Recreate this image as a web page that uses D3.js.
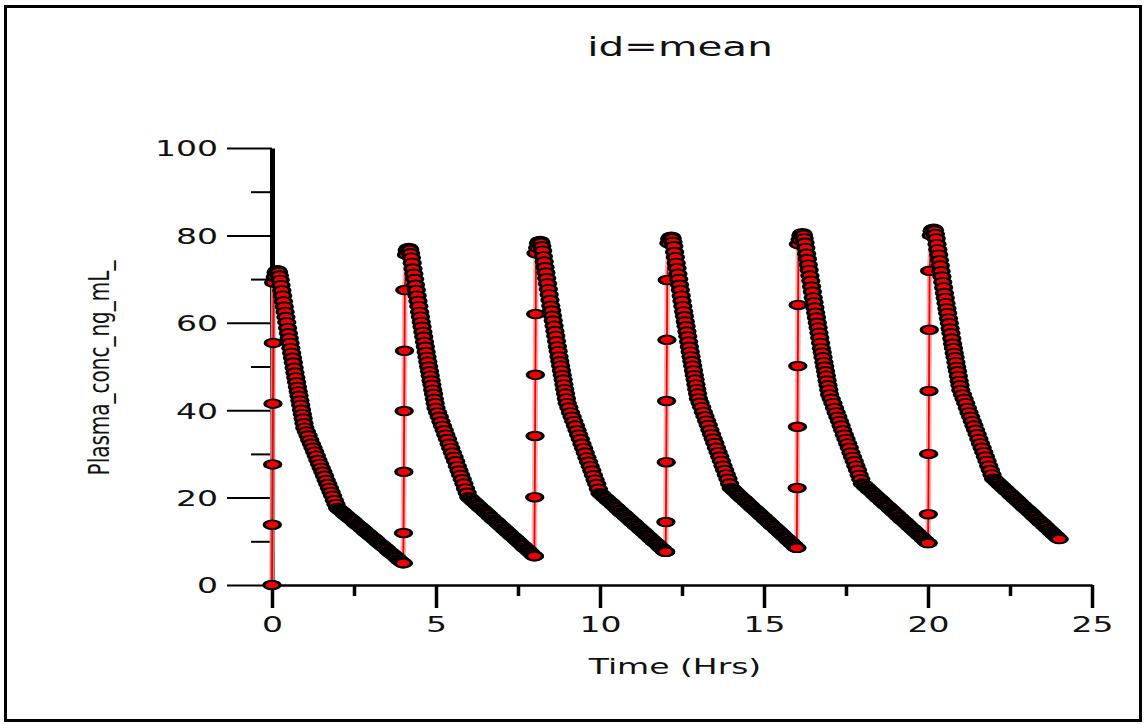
<!DOCTYPE html>
<html>
<head>
<meta charset="utf-8">
<script src="https://cdn.jsdelivr.net/npm/d3@7"></script>
<style>
  html, body { margin: 0; padding: 0; background: #ffffff; }
  svg { display: block; }
  text { font-family: "DejaVu Sans", Verdana, sans-serif; fill: #111; }
</style>
</head>
<body>
<svg id="chart" width="1147" height="724"></svg>
<script>
// Dose times (hours) for the six dosing intervals
const doseTimes = [0, 4, 8, 12, 16, 20];

// Sampling times within the short infusion (hours after each dose)
const riseHours = [0, 0.01, 0.02, 0.03, 0.04, 0.05];

// Concentrations during the infusion, one row per dose
const riseConc = [
  [0, 13.8, 27.6, 41.5, 55.4, 69.2],
  [5.0, 11.9, 25.9, 39.8, 53.6, 67.5],
  [6.6, 20.1, 34.1, 48.1, 62.0, 75.9],
  [7.6, 14.4, 28.1, 42.1, 56.1, 69.8],
  [8.5, 22.2, 36.2, 50.1, 64.1, 78.0],
  [9.6, 16.2, 30.0, 44.4, 58.4, 71.9]
];

// Sampling times after the infusion (hours after each dose)
const hoursAfterDose = [
  0.100, 0.125, 0.150, 0.175, 0.200, 0.225, 0.250, 0.275, 0.300, 0.325,
  0.350, 0.375, 0.400, 0.425, 0.450, 0.475, 0.500, 0.525, 0.550, 0.575,
  0.600, 0.625, 0.650, 0.675, 0.700, 0.725, 0.750, 0.775, 0.800, 0.825,
  0.850, 0.875, 0.900, 0.925, 0.950, 0.975, 1.000,
  1.05, 1.10, 1.15, 1.20, 1.25, 1.30, 1.35, 1.40, 1.45, 1.50,
  1.55, 1.60, 1.65, 1.70, 1.75, 1.80, 1.85, 1.90, 1.95, 2.00,
  2.05, 2.10, 2.15, 2.20, 2.25, 2.30, 2.35, 2.40, 2.45, 2.50,
  2.55, 2.60, 2.65, 2.70, 2.75, 2.80, 2.85, 2.90, 2.95, 3.00,
  3.05, 3.10, 3.15, 3.20, 3.25, 3.30, 3.35, 3.40, 3.45, 3.50,
  3.55, 3.60, 3.65, 3.70, 3.75, 3.80, 3.85, 3.90, 3.95, 4.00
];

// Mean plasma concentration (ng/mL) after each dose
const decayDose1 = [
  70.5, 71.5, 71.9, 72.0, 71.6, 70.8, 69.8,
  68.6, 67.4, 66.2, 64.9, 63.7, 62.5, 61.3, 60.1, 58.8, 57.6,
  56.5, 55.4, 54.2, 53.1, 52.0, 50.9, 49.7, 48.6, 47.5, 46.4,
  45.3, 44.3, 43.3, 42.2, 41.2, 40.1, 39.1, 38.1, 37.0, 36.0,
  35.1, 34.2, 33.2, 32.3, 31.4, 30.5, 29.6, 28.6, 27.7, 26.8,
  25.9, 25.0, 24.0, 23.1, 22.2, 21.3, 20.4, 19.4, 18.5, 17.6,
  17.3, 17.0, 16.7, 16.3, 16.0, 15.7, 15.4, 15.1, 14.8, 14.5,
  14.1, 13.8, 13.5, 13.2, 12.9, 12.6, 12.2, 11.9, 11.6, 11.3,
  11.0, 10.7, 10.4, 10.0, 9.7, 9.4, 9.1, 8.8, 8.5, 8.2,
  7.8, 7.5, 7.2, 6.9, 6.6, 6.3, 5.9, 5.6, 5.3, 5.0
];
const decayDose2 = [
  75.6, 76.6, 77.0, 77.1, 76.7, 75.9, 74.9,
  73.7, 72.4, 71.2, 70.0, 68.7, 67.5, 66.2, 65.0, 63.8, 62.5,
  61.4, 60.2, 59.1, 57.9, 56.8, 55.6, 54.5, 53.3, 52.2, 51.1,
  50.0, 48.9, 47.9, 46.8, 45.8, 44.7, 43.7, 42.6, 41.6, 40.5,
  39.5, 38.5, 37.4, 36.4, 35.4, 34.4, 33.4, 32.3, 31.3, 30.3,
  29.3, 28.3, 27.2, 26.2, 25.2, 24.2, 23.2, 22.1, 21.1, 20.1,
  19.8, 19.4, 19.1, 18.8, 18.4, 18.1, 17.7, 17.4, 17.1, 16.7,
  16.4, 16.1, 15.7, 15.4, 15.0, 14.7, 14.4, 14.0, 13.7, 13.4,
  13.0, 12.7, 12.3, 12.0, 11.7, 11.3, 11.0, 10.7, 10.3, 10.0,
  9.6, 9.3, 9.0, 8.6, 8.3, 8.0, 7.6, 7.3, 6.9, 6.6
];
const decayDose3 = [
  77.2, 78.2, 78.6, 78.7, 78.3, 77.5, 76.5,
  75.2, 74.0, 72.7, 71.5, 70.2, 69.0, 67.7, 66.5, 65.2, 63.9,
  62.8, 61.6, 60.5, 59.3, 58.1, 57.0, 55.8, 54.6, 53.5, 52.3,
  51.2, 50.2, 49.1, 48.0, 47.0, 45.9, 44.8, 43.8, 42.7, 41.6,
  40.6, 39.5, 38.5, 37.5, 36.5, 35.4, 34.4, 33.4, 32.3, 31.3,
  30.3, 29.2, 28.2, 27.2, 26.2, 25.1, 24.1, 23.1, 22.0, 21.0,
  20.7, 20.3, 20.0, 19.7, 19.3, 19.0, 18.7, 18.3, 18.0, 17.7,
  17.3, 17.0, 16.6, 16.3, 16.0, 15.6, 15.3, 15.0, 14.6, 14.3,
  14.0, 13.6, 13.3, 13.0, 12.6, 12.3, 12.0, 11.6, 11.3, 11.0,
  10.6, 10.3, 9.9, 9.6, 9.3, 8.9, 8.6, 8.3, 7.9, 7.6
];
const decayDose4 = [
  78.2, 79.2, 79.6, 79.7, 79.3, 78.5, 77.5,
  76.2, 75.0, 73.7, 72.5, 71.2, 70.0, 68.7, 67.5, 66.2, 65.0,
  63.8, 62.6, 61.5, 60.3, 59.2, 58.0, 56.9, 55.7, 54.5, 53.4,
  52.3, 51.2, 50.2, 49.1, 48.0, 47.0, 45.9, 44.8, 43.8, 42.7,
  41.7, 40.7, 39.6, 38.6, 37.6, 36.6, 35.5, 34.5, 33.5, 32.5,
  31.4, 30.4, 29.4, 28.4, 27.3, 26.3, 25.3, 24.3, 23.2, 22.2,
  21.9, 21.5, 21.2, 20.8, 20.5, 20.1, 19.8, 19.5, 19.1, 18.8,
  18.4, 18.1, 17.7, 17.4, 17.1, 16.7, 16.4, 16.0, 15.7, 15.4,
  15.0, 14.7, 14.3, 14.0, 13.6, 13.3, 13.0, 12.6, 12.3, 11.9,
  11.6, 11.2, 10.9, 10.6, 10.2, 9.9, 9.5, 9.2, 8.8, 8.5
];
const decayDose5 = [
  79.0, 80.0, 80.4, 80.5, 80.1, 79.3, 78.3,
  77.1, 75.8, 74.6, 73.3, 72.1, 70.8, 69.6, 68.3, 67.1, 65.8,
  64.7, 63.5, 62.3, 61.2, 60.0, 58.9, 57.7, 56.6, 55.4, 54.2,
  53.2, 52.1, 51.0, 50.0, 48.9, 47.9, 46.8, 45.7, 44.7, 43.6,
  42.6, 41.6, 40.5, 39.5, 38.5, 37.5, 36.5, 35.4, 34.4, 33.4,
  32.4, 31.4, 30.3, 29.3, 28.3, 27.3, 26.3, 25.2, 24.2, 23.2,
  22.9, 22.5, 22.2, 21.8, 21.5, 21.2, 20.8, 20.5, 20.1, 19.8,
  19.5, 19.1, 18.8, 18.4, 18.1, 17.8, 17.4, 17.1, 16.7, 16.4,
  16.1, 15.7, 15.4, 15.0, 14.7, 14.4, 14.0, 13.7, 13.3, 13.0,
  12.7, 12.3, 12.0, 11.6, 11.3, 11.0, 10.6, 10.3, 9.9, 9.6
];
const decayDose6 = [
  80.0, 81.0, 81.4, 81.5, 81.1, 80.3, 79.3,
  78.0, 76.8, 75.6, 74.3, 73.1, 71.8, 70.6, 69.3, 68.1, 66.8,
  65.7, 64.5, 63.3, 62.2, 61.0, 59.9, 58.7, 57.6, 56.4, 55.2,
  54.2, 53.1, 52.1, 51.0, 49.9, 48.9, 47.8, 46.7, 45.7, 44.6,
  43.6, 42.6, 41.6, 40.5, 39.5, 38.5, 37.5, 36.5, 35.5, 34.5,
  33.4, 32.4, 31.4, 30.4, 29.4, 28.4, 27.3, 26.3, 25.3, 24.3,
  24.0, 23.6, 23.3, 22.9, 22.6, 22.2, 21.9, 21.5, 21.2, 20.9,
  20.5, 20.2, 19.8, 19.5, 19.1, 18.8, 18.4, 18.1, 17.7, 17.4,
  17.1, 16.7, 16.4, 16.0, 15.7, 15.3, 15.0, 14.6, 14.3, 14.0,
  13.6, 13.3, 12.9, 12.6, 12.2, 11.9, 11.5, 11.2, 10.8, 10.5
];
const decayConc = [decayDose1, decayDose2, decayDose3, decayDose4, decayDose5, decayDose6];

// Axis ticks and labels
const xMajorTicks = [0, 5, 10, 15, 20, 25];
const xMinorTicks = [2.5, 7.5, 12.5, 17.5, 22.5];
const yMajorTicks = [0, 20, 40, 60, 80, 100];
const yMinorTicks = [10, 30, 50, 70, 90];
const titleText = "id=mean";
const xAxisTitle = "Time (Hrs)";
const yAxisTitle = "Plasma_conc_ng_mL_";

// ---------------------------------------------------------------
const svg = d3.select("#chart");
const TEXT_STRETCH = 1.5;   // wide lettering of the plot
const MARK_STRETCH = 1.85;  // markers are flattened ellipses

// soft edge for the markers
const defs = svg.append("defs");
defs.append("filter").attr("id", "soft")
  .attr("x", "-5%").attr("y", "-5%").attr("width", "110%").attr("height", "110%")
  .append("feGaussianBlur").attr("stdDeviation", 0.6);

// outer frame
svg.append("rect")
  .attr("x", 5.5).attr("y", 6.5)
  .attr("width", 1135).attr("height", 714)
  .attr("fill", "none").attr("stroke", "#000").attr("stroke-width", 3);

const x = d3.scaleLinear().domain([0, 25]).range([272, 1092]);
const y = d3.scaleLinear().domain([0, 100]).range([585, 148]);

// title
svg.append("text")
  .attr("transform", `translate(680,56) scale(${TEXT_STRETCH},1)`)
  .attr("text-anchor", "middle")
  .attr("font-size", 27)
  .text(titleText);

// ---- y axis
const yAxisG = svg.append("g").attr("transform", "translate(272,0)");
yAxisG.call(d3.axisLeft(y).tickValues(yMajorTicks).tickSize(45).tickSizeOuter(0));
yAxisG.append("g").call(d3.axisLeft(y).tickValues(yMinorTicks).tickSize(21).tickFormat(""))
  .call(g => g.select(".domain").remove());
yAxisG.attr("font-family", null).attr("font-size", null);
yAxisG.selectAll(".tick line").attr("stroke", "#000").attr("stroke-width", 2);
yAxisG.select(".domain").attr("stroke", "#000").attr("stroke-width", 5);
yAxisG.selectAll(".tick text")
  .attr("x", null).attr("dy", "0.36em")
  .attr("fill", "#111")
  .attr("font-size", 22)
  .attr("text-anchor", "end")
  .attr("transform", `translate(-54,0) scale(${TEXT_STRETCH},1)`);

// ---- x axis
const xAxisG = svg.append("g").attr("transform", "translate(0,585)");
xAxisG.call(d3.axisBottom(x).tickValues(xMajorTicks).tickSize(23).tickSizeOuter(0).tickFormat(d3.format("d")));
xAxisG.append("g").call(d3.axisBottom(x).tickValues(xMinorTicks).tickSize(11).tickFormat(""))
  .call(g => g.select(".domain").remove());
xAxisG.attr("font-family", null).attr("font-size", null);
xAxisG.selectAll(".tick line").attr("stroke", "#000").attr("stroke-width", 3.5);
xAxisG.select(".domain").attr("stroke", "#000").attr("stroke-width", 2.5);
xAxisG.selectAll(".tick text")
  .attr("y", null).attr("dy", null)
  .attr("fill", "#111")
  .attr("font-size", 22)
  .attr("text-anchor", "middle")
  .attr("transform", `translate(0,47) scale(${TEXT_STRETCH},1)`);

// axis titles
svg.append("text")
  .attr("transform", `translate(675,674) scale(${TEXT_STRETCH},1)`)
  .attr("text-anchor", "middle")
  .attr("font-size", 22)
  .text(xAxisTitle);

svg.append("text")
  .attr("transform", `translate(109,368) scale(1.45,1) rotate(-90)`)
  .attr("text-anchor", "middle")
  .attr("font-size", 20)
  .text(yAxisTitle);

// ---- data points, in time order
const points = [];
doseTimes.forEach((dose, i) => {
  riseHours.forEach((h, j) => points.push({ t: dose + h, c: riseConc[i][j] }));
  const n = Math.min(hoursAfterDose.length, decayConc[i].length);
  for (let j = 0; j < n; j++) points.push({ t: dose + hoursAfterDose[j], c: decayConc[i][j] });
});

const line = d3.line().x(d => x(d.t)).y(d => y(d.c));

// connecting line: soft halo with a red core
svg.append("path").datum(points)
  .attr("d", line).attr("fill", "none")
  .attr("stroke", "#ff9c9c").attr("stroke-width", 5.5).attr("stroke-opacity", 0.8);
svg.append("path").datum(points)
  .attr("d", line).attr("fill", "none")
  .attr("stroke", "#f00000").attr("stroke-width", 1.8);

// markers
svg.append("g").attr("filter", "url(#soft)")
  .selectAll("circle")
  .data(points)
  .join("circle")
  .attr("r", 4.3)
  .attr("transform", d => `translate(${x(d.t)},${y(d.c)}) scale(${MARK_STRETCH},1)`)
  .attr("fill", "#f00000")
  .attr("stroke", "#000")
  .attr("stroke-width", 1.9);
</script>
</body>
</html>
